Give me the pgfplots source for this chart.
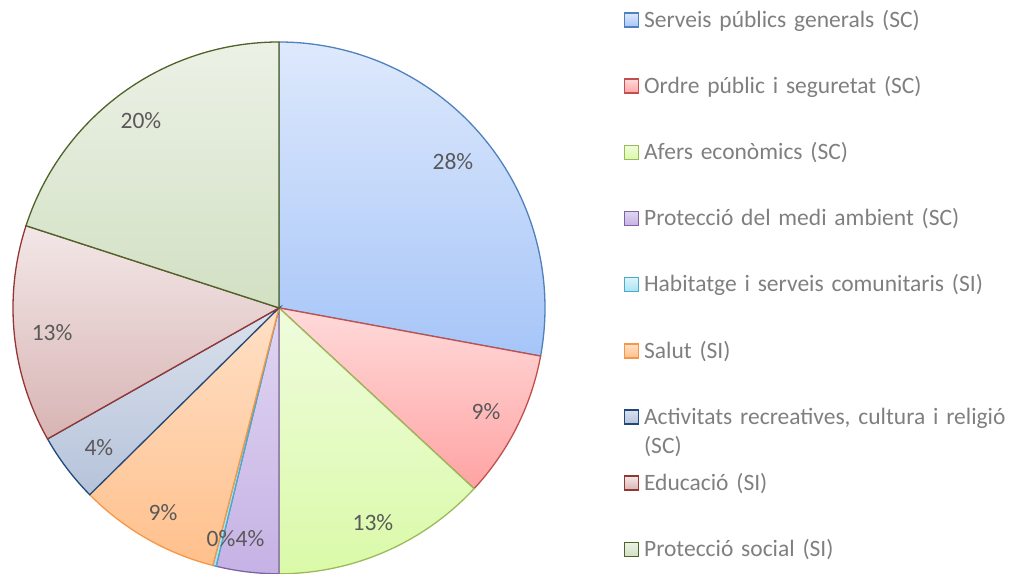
\documentclass[border=0pt]{standalone}
\usepackage{fontspec}
\setmainfont{Carlito}[WordSpace=0.7]
\usepackage{pgfplots}
\usepackage{pgfplotstable}
\pgfplotsset{compat=1.18}

\definecolor{legendgray}{HTML}{7F7F7F}
\definecolor{labelgray}{HTML}{595959}
\definecolor{c0}{HTML}{4F81BD}\definecolor{c0t}{HTML}{DEE9FC}\definecolor{c0b}{HTML}{A6C5F8}
\definecolor{c1}{HTML}{C0504D}\definecolor{c1t}{HTML}{FFDADA}\definecolor{c1b}{HTML}{FFA3A3}
\definecolor{c2}{HTML}{9BBB59}\definecolor{c2t}{HTML}{EFFCDD}\definecolor{c2b}{HTML}{DAFAA8}
\definecolor{c3}{HTML}{8064A2}\definecolor{c3t}{HTML}{E0D6F1}\definecolor{c3b}{HTML}{C6B2E5}
\definecolor{c4}{HTML}{4BACC6}\definecolor{c4t}{HTML}{DDF4FB}\definecolor{c4b}{HTML}{A8E3F4}
\definecolor{c5}{HTML}{F79646}\definecolor{c5t}{HTML}{FFE0C6}\definecolor{c5b}{HTML}{FFC08C}
\definecolor{c6}{HTML}{1F497D}\definecolor{c6t}{HTML}{DBE1EC}\definecolor{c6b}{HTML}{B5C3DA}
\definecolor{c7}{HTML}{943634}\definecolor{c7t}{HTML}{F3E7E7}\definecolor{c7b}{HTML}{D8B4B4}
\definecolor{c8}{HTML}{4F6228}\definecolor{c8t}{HTML}{ECF1E6}\definecolor{c8b}{HTML}{D2E0C3}

\tikzset{
  slice0/.style={draw=c0, top color=c0t, bottom color=c0b},
  slice1/.style={draw=c1, top color=c1t, bottom color=c1b},
  slice2/.style={draw=c2, top color=c2t, bottom color=c2b},
  slice3/.style={draw=c3, top color=c3t, bottom color=c3b},
  slice4/.style={draw=c4, top color=c4t, bottom color=c4b},
  slice5/.style={draw=c5, top color=c5t, bottom color=c5b},
  slice6/.style={draw=c6, top color=c6t, bottom color=c6b},
  slice7/.style={draw=c7, top color=c7t, bottom color=c7b},
  slice8/.style={draw=c8, top color=c8t, bottom color=c8b},
}

\pgfplotstableread{
value
27.9
9.0
13.1
3.8
0.2
8.6
4.2
13.2
20.0
}\piedata

\begin{document}
\hyphenpenalty=10000
\exhyphenpenalty=10000
\begin{tikzpicture}
\begin{axis}[
  width=1011pt, height=574pt, scale only axis,
  xmin=-1.04887, xmax=2.75188, ymin=-1, ymax=1.15789,
  hide axis, clip=false,
  legend style={at={(axis cs:1.2955,1.1305)}, anchor=north west,
    draw=none, fill=none, inner sep=0pt, outer sep=0pt,
    row sep=0pt, column sep=5pt,
    font=\fontsize{23.5}{29}\selectfont, text=legendgray,
    nodes={anchor=base west, inner sep=0pt, text width=364pt, align=left,
      text height=20pt, text depth=46.2pt}},
  legend image code/.code={\draw[#1, line width=1.5pt] (0pt,0.3pt) rectangle (14pt,14.3pt);},
]
\def\cum{0}
\pgfplotsforeachungrouped \i in {0,...,8}{%
  \pgfplotstablegetelem{\i}{value}\of\piedata
  \pgfmathsetmacro\cumnext{\cum+\pgfplotsretval}%
  \edef\cmd{\noexpand\addplot[slice\i, line width=1.3pt, domain=\cum:\cumnext, samples=120]
     ({sin(3.6*x)},{cos(3.6*x)}) -- (axis cs:0,0) -- cycle;}%
  \cmd
  \global\let\cum\cumnext
}
\legend{Serveis públics generals (SC), Ordre públic i seguretat (SC), Afers econòmics (SC),
  Protecció del medi ambient (SC), Habitatge i serveis comunitaris (SI), Salut (SI),
  {Activitats recreatives, cultura i religió (SC)}, Educació (SI), Protecció social (SI)}

\tikzset{lbl/.style={font=\fontsize{23.5}{29}\selectfont, text=labelgray, inner sep=0pt}}
\node[lbl] at (axis cs:0.654,0.549) {28\%};
\node[lbl] at (axis cs:0.778,-0.391) {9\%};
\node[lbl] at (axis cs:0.353,-0.808) {13\%};
\node[lbl] at (axis cs:-0.109,-0.868) {4\%};
\node[lbl] at (axis cs:-0.218,-0.868) {0\%};
\node[lbl] at (axis cs:-0.436,-0.771) {9\%};
\node[lbl] at (axis cs:-0.677,-0.526) {4\%};
\node[lbl] at (axis cs:-0.853,-0.094) {13\%};
\node[lbl] at (axis cs:-0.519,0.703) {20\%};
\end{axis}
\pgfresetboundingbox
\path[use as bounding box] (current axis.south west) rectangle (current axis.north east);
\end{tikzpicture}
\end{document}
